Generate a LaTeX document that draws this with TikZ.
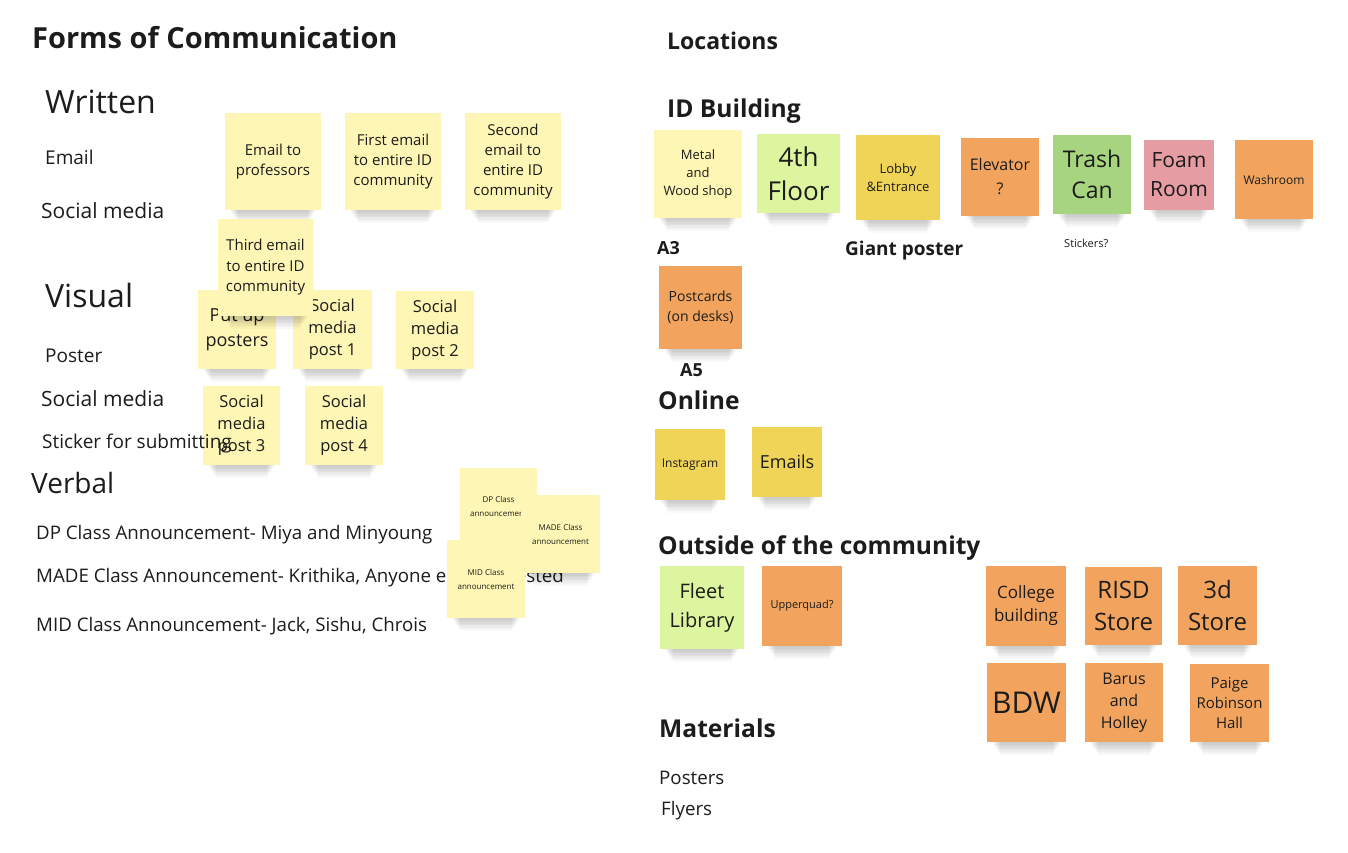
\documentclass[tikz,border=0pt]{standalone}
\usepackage{fontspec}
\setmainfont{Open Sans}
\definecolor{ink}{HTML}{1C1C1C}
\definecolor{lyel}{HTML}{FEF6B4}
\definecolor{yel}{HTML}{F0D458}
\definecolor{ora}{HTML}{F2A45F}
\definecolor{lgrn}{HTML}{DDF59E}
\definecolor{grn}{HTML}{A7D47F}
\definecolor{pnk}{HTML}{E59CA3}
\tikzset{
  note/.style={inner sep=0pt, align=center, text=ink},
  lbl/.style={inner sep=0pt, anchor=base west, text=ink},
  hd/.style={lbl, font=\bfseries\fontsize{24.6}{28}\selectfont},
}
\newcommand\stk[9]{%
  \foreach \i in {1,...,9}{%
    \fill[black,opacity=.022] ({#2+4+\i},{#5-2}) rectangle ({#4-4-\i},{#5+1.4*\i});
  }%
  \node[note, fill=#6, minimum width={(#4-#2)*1pt}, minimum height={(#5-#3)*1pt},
        font=\fontsize{#7}{#8}\selectfont] (#1) at ({(#2+#4)/2},{(#3+#5)/2}) {#9};%
}
\begin{document}
\begin{tikzpicture}[x=1pt,y=-1pt]
\fill[white] (0,0) rectangle (1348,852);
\useasboundingbox (0,0) rectangle (1348,852);
% ---------- left column ----------
\node[lbl, font=\bfseries\fontsize{29}{33}\selectfont] (forms) at (32,48) {Forms of Communication};
\node[lbl, font=\fontsize{32}{36}\selectfont] (written) at (45,113) {Written};
\node[lbl, font=\fontsize{19}{23}\selectfont] (email) at (45,164) {Email};
\node[lbl, font=\fontsize{21}{25}\selectfont] (socw) at (41,218) {Social media};
\node[lbl, font=\fontsize{32}{36}\selectfont] (visual) at (45,307) {Visual};
\node[lbl, font=\fontsize{19}{23}\selectfont] (poster) at (45,362) {Poster};
\node[lbl, font=\fontsize{21}{25}\selectfont] (socv) at (41,406) {Social media};
\node[lbl, font=\fontsize{28}{32}\selectfont] (verbal) at (31,493) {Verbal};
\node[lbl, font=\fontsize{18.7}{22}\selectfont] (dp) at (36,539) {DP Class Announcement- Miya and Minyoung};
\node[lbl, font=\fontsize{18.7}{22}\selectfont] (made) at (36,582) {MADE Class Announcement- Krithika, Anyone else interested};
\node[lbl, font=\fontsize{18.7}{22}\selectfont] (mid) at (36,631) {MID Class Announcement- Jack, Sishu, Chrois};
% stickies left
\stk{s1}{225}{113}{321}{210}{lyel}{15}{20}{Email to\\professors}
\stk{s2}{345}{113}{441}{210}{lyel}{15}{20}{First email\\to entire ID\\community}
\stk{s3}{465}{113}{561}{210}{lyel}{15}{20}{Second\\email to\\entire ID\\community}
\stk{s5}{198}{290}{276}{369}{lyel}{18}{25}{Put up\\posters}
\stk{s6}{293}{290}{372}{369}{lyel}{16.5}{22}{Social\\media\\post 1}
\stk{s7}{396}{291}{474}{369}{lyel}{16.5}{22}{Social\\media\\post 2}
\stk{s4}{218}{219}{313}{316}{lyel}{15}{20.5}{Third email\\to entire ID\\community}
\stk{s8}{203}{386}{280}{465}{lyel}{16.5}{22}{Social\\media\\post 3}
\stk{s9}{305}{386}{383}{465}{lyel}{16.5}{22}{Social\\media\\post 4}
\node[lbl, font=\fontsize{19}{23}\selectfont] (sticker) at (42,448) {Sticker for submitting};
\stk{s10}{460}{468}{537}{545}{lyel}{8}{14}{DP Class\\announcement}
\stk{s11}{521}{495}{600}{573}{lyel}{8}{14}{MADE Class\\announcement}
\stk{s12}{447}{540}{525}{618}{lyel}{8}{14}{MID Class\\announcement}
% ---------- right column ----------
\node[hd, font=\bfseries\fontsize{23}{26}\selectfont] (loc) at (667,49) {Locations};
\node[hd] (idb) at (667,117) {ID Building};
\stk{r1}{654}{130}{742}{218}{lyel}{13}{18}{Metal\\and\\Wood shop}
\stk{r2}{757}{134}{840}{213}{lgrn}{26}{34}{4th\\Floor}
\stk{r3}{856}{135}{940}{220}{yel}{13}{18}{Lobby\\\&Entrance}
\stk{r4}{961}{138}{1039}{216}{ora}{16}{24}{Elevator\\?}
\stk{r5}{1053}{135}{1131}{214}{grn}{23}{31}{Trash\\Can}
\stk{r6}{1144}{140}{1214}{210}{pnk}{21}{29}{Foam\\Room}
\stk{r7}{1235}{140}{1313}{219}{ora}{12}{16}{Washroom}
\node[lbl, font=\bfseries\fontsize{18}{22}\selectfont] (a3) at (657,254) {A3};
\node[lbl, font=\bfseries\fontsize{19}{23}\selectfont] (giant) at (845,255) {Giant poster};
\node[lbl, font=\fontsize{11}{14}\selectfont] (stickers) at (1064,247) {Stickers?};
\stk{r8}{659}{266}{742}{349}{ora}{14}{20}{Postcards\\(on desks)}
\node[lbl, font=\bfseries\fontsize{18}{22}\selectfont] (a5) at (680,376) {A5};
\node[hd] (online) at (658,409) {Online};
\stk{o1}{655}{429}{725}{500}{yel}{12}{16}{Instagram}
\stk{o2}{752}{427}{822}{497}{yel}{18}{22}{Emails}
\node[hd] (outside) at (658,554) {Outside of the community};
\stk{c1}{660}{566}{744}{649}{lgrn}{20}{29}{Fleet\\Library}
\stk{c2}{762}{566}{842}{646}{ora}{11}{14}{Upperquad?}
\stk{c3}{986}{566}{1066}{646}{ora}{17}{23}{College\\building}
\stk{c4}{1085}{567}{1162}{645}{ora}{24}{32}{RISD\\Store}
\stk{c5}{1178}{566}{1257}{645}{ora}{24}{32}{3d\\Store}
\stk{c6}{987}{663}{1066}{742}{ora}{30}{36}{BDW}
\stk{c7}{1085}{663}{1163}{742}{ora}{16}{22}{Barus\\and\\Holley}
\stk{c8}{1190}{664}{1269}{742}{ora}{15}{20}{Paige\\Robinson\\Hall}
\node[hd] (materials) at (659,737) {Materials};
\node[lbl, font=\fontsize{18.7}{22}\selectfont] (posters) at (659,784) {Posters};
\node[lbl, font=\fontsize{18.7}{22}\selectfont] (flyers) at (661,815) {Flyers};
\end{tikzpicture}
\end{document}
